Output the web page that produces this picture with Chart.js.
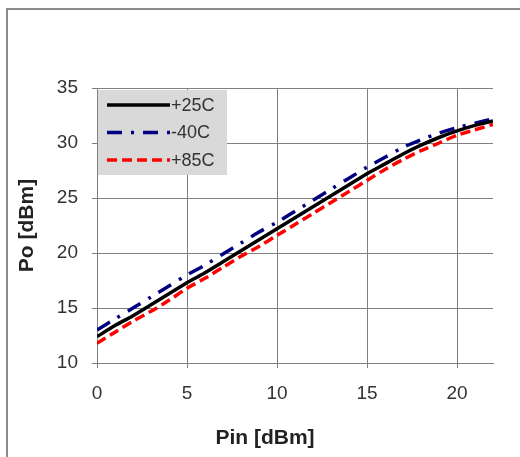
<!DOCTYPE html>
<html>
<head>
<meta charset="utf-8">
<script src="https://cdn.jsdelivr.net/npm/chart.js@4"></script>
<style>
  html, body { margin: 0; padding: 0; background: #fff; }
  #wrap { width: 520px; height: 457px; }
</style>
</head>
<body>
<div id="wrap"><canvas id="paChart" width="520" height="457"></canvas></div>
<script>
// Pin [dBm]
var pin = [0,1,2,3,4,5,6,7,8,9,10,11,12,13,14,15,16,17,18,19,20,21,22];
// Po [dBm] per temperature
var po25 = [12.4,13.4,14.3,15.3,16.3,17.3,18.2,19.2,20.2,21.2,22.2,23.2,24.2,25.2,26.2,27.2,28.1,29.0,29.8,30.5,31.1,31.6,32.0];
var poM40 = [13.0,14.0,15.0,16.0,17.0,18.0,18.9,19.9,20.9,21.9,22.8,23.8,24.8,25.8,26.8,27.8,28.7,29.6,30.3,30.9,31.4,31.8,32.2];
var po85 = [11.8,12.8,13.8,14.7,15.7,16.8,17.7,18.7,19.7,20.6,21.6,22.6,23.6,24.6,25.6,26.6,27.6,28.5,29.3,30.0,30.7,31.2,31.7];
var labels = ['+25C', '-40C', '+85C'];
var xTicks = [0, 5, 10, 15, 20];

var FONT = '"Liberation Sans", Arial, sans-serif';

function pts(ys) {
    return pin.map(function (x, i) { return { x: x, y: ys[i] }; });
}

// outer frame, legend box inside the plot area, x-axis title centred on the frame
var framePlugin = {
    id: 'frame',
    beforeDraw: function (chart) {
        var c = chart.ctx;
        c.save();
        c.strokeStyle = '#8c8c8c';
        c.lineWidth = 2;
        c.strokeRect(7, 9, 600, 600);
        c.restore();
    },
    afterDraw: function (chart) {
        var c = chart.ctx, a = chart.chartArea;
        c.save();
        c.fillStyle = '#d9d9d9';
        c.fillRect(a.left + 1, a.top + 2, 129, 85);
        c.font = '18px ' + FONT;
        c.textBaseline = 'middle';
        chart.data.datasets.forEach(function (ds, i) {
            var y = a.top + 17 + i * 27.5;
            c.strokeStyle = ds.borderColor;
            c.lineWidth = ds.borderWidth;
            c.setLineDash(ds.borderDash || []);
            c.beginPath();
            c.moveTo(a.left + 10, y);
            c.lineTo(a.left + 73, y);
            c.stroke();
            c.setLineDash([]);
            c.fillStyle = '#333';
            c.fillText(ds.label, a.left + 74, y + 1);
        });
        c.font = 'bold 21px ' + FONT;
        c.fillStyle = '#222';
        c.textAlign = 'center';
        c.fillText('Pin [dBm]', 265, 438);
        c.restore();
    }
};

new Chart(document.getElementById('paChart').getContext('2d'), {
    type: 'line',
    data: {
        datasets: [{
            label: labels[0],
            data: pts(po25),
            borderColor: '#000000',
            borderWidth: 3.5
        }, {
            label: labels[1],
            data: pts(poM40),
            borderColor: '#000080',
            borderWidth: 3.5,
            borderDash: [15, 9, 3, 9]
        }, {
            label: labels[2],
            data: pts(po85),
            borderColor: '#ff0000',
            borderWidth: 3.5,
            borderDash: [10, 5]
        }]
    },
    options: {
        responsive: false,
        animation: false,
        layout: { padding: { top: 88, right: 27, left: 0, bottom: 0 } },
        elements: {
            point: { radius: 0 },
            line: { tension: 0.3, fill: false }
        },
        plugins: {
            legend: { display: false },
            tooltip: { enabled: false }
        },
        scales: {
            x: {
                type: 'linear',
                min: 0,
                max: 22,
                afterBuildTicks: function (s) {
                    s.ticks = xTicks.map(function (v) { return { value: v }; });
                },
                afterFit: function (s) { s.height = 94; },
                ticks: {
                    padding: 14,
                    color: '#333',
                    font: { family: FONT, size: 19 }
                },
                grid: { color: '#808080', lineWidth: 1, tickLength: 5 },
                border: { color: '#808080', width: 1 }
            },
            y: {
                min: 10,
                max: 35,
                afterFit: function (s) { s.width = 97; },
                ticks: {
                    stepSize: 5,
                    padding: 14,
                    color: '#333',
                    font: { family: FONT, size: 19 }
                },
                grid: { color: '#808080', lineWidth: 1, tickLength: 5 },
                border: { color: '#808080', width: 1 },
                title: {
                    display: true,
                    text: 'Po [dBm]',
                    color: '#222',
                    font: { family: FONT, size: 21, weight: 'bold' },
                    padding: { top: 15, bottom: 0 }
                }
            }
        }
    },
    plugins: [framePlugin]
});
</script>
</body>
</html>
